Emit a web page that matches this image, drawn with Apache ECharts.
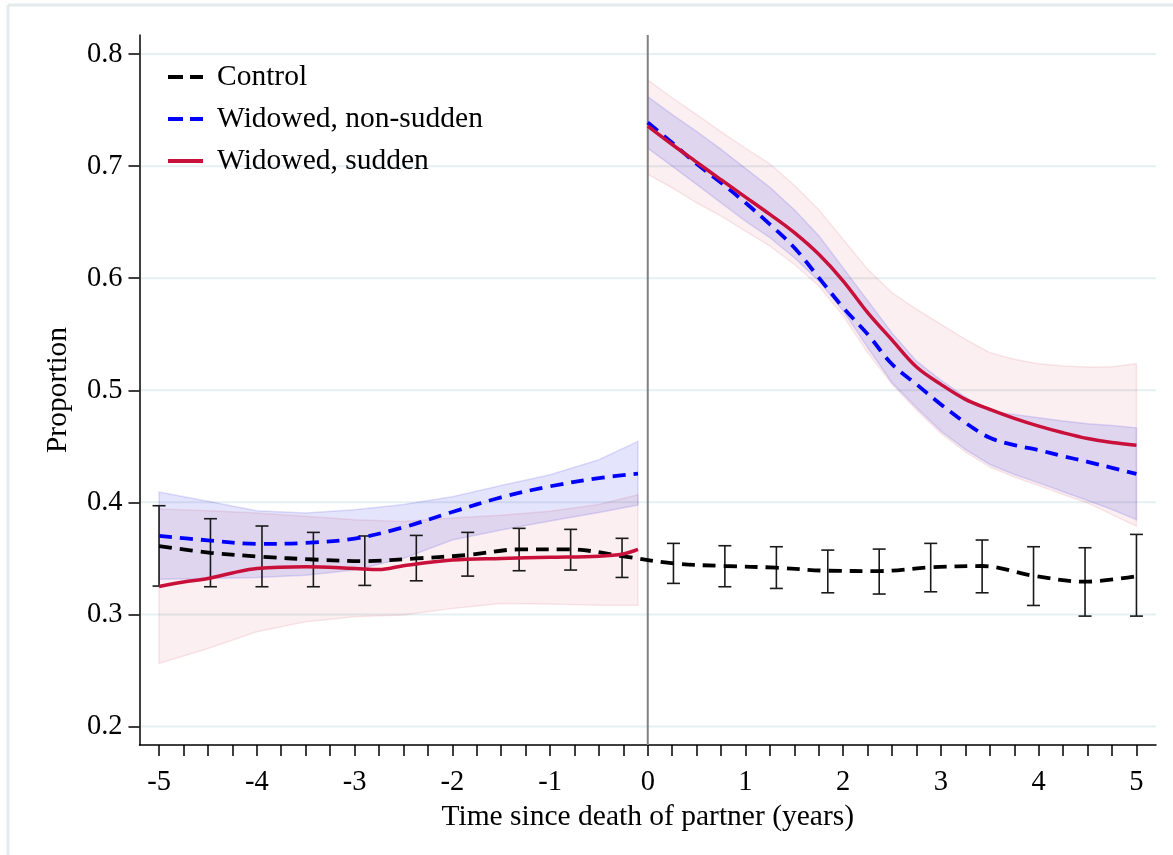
<!DOCTYPE html>
<html>
<head>
<meta charset="utf-8">
<script src="https://cdn.jsdelivr.net/npm/echarts@6/dist/echarts.min.js"></script>
<style>
html,body{margin:0;padding:0;background:#fff;}
#chart{width:1173px;height:855px;}
</style>
</head>
<body>
<div id="chart"></div>
<script>
// ---------- data ----------
const yTicks = [0.2, 0.3, 0.4, 0.5, 0.6, 0.7, 0.8];
const xLabels = [-5, -4, -3, -2, -1, 0, 1, 2, 3, 4, 5];
const xMinorTicks = [-5,-4.75,-4.5,-4.25,-4,-3.75,-3.5,-3.25,-3,-2.75,-2.5,-2.25,-2,-1.75,-1.5,-1.25,-1,-0.75,-0.5,-0.25,0,
  0.25,0.5,0.75,1,1.25,1.5,1.75,2,2.25,2.5,2.75,3,3.25,3.5,3.75,4,4.25,4.5,4.75,5];

// Control (black dashed) with 95% CI error bars
const ctrlX  = [-5, -4.474, -3.947, -3.421, -2.895, -2.368, -1.842, -1.316, -0.789, -0.263,
                0.263, 0.789, 1.316, 1.842, 2.368, 2.895, 3.421, 3.947, 4.474, 5];
const ctrlY  = [0.361, 0.355, 0.3515, 0.349, 0.3476, 0.350, 0.353, 0.358, 0.358, 0.352,
                0.3455, 0.3432, 0.3417, 0.339, 0.3387, 0.342, 0.3432, 0.3345, 0.3292, 0.3342];
const ctrlLo = [0.3253, 0.3247, 0.3247, 0.3247, 0.3259, 0.330, 0.3342, 0.339, 0.3396, 0.333,
                0.3277, 0.3247, 0.3232, 0.3193, 0.3182, 0.3202, 0.3193, 0.308, 0.2985, 0.2985];
const ctrlHi = [0.397, 0.3854, 0.3789, 0.3732, 0.370, 0.3705, 0.3732, 0.3768, 0.3759, 0.3679,
                0.3634, 0.3613, 0.3604, 0.3574, 0.3583, 0.3634, 0.3664, 0.3604, 0.3595, 0.3714];

// Pre-death period grid
const preX = [-5, -4.5, -4, -3.5, -3, -2.5, -2, -1.5, -1, -0.5, -0.1];
// Widowed, non-sudden (blue) pre
const nsPreY  = [0.370, 0.3661, 0.3629, 0.3638, 0.3676, 0.3777, 0.3914, 0.4045, 0.4143, 0.4217, 0.4256];
const nsPreHi = [0.4092, 0.4009, 0.3926, 0.3905, 0.3935, 0.398, 0.405, 0.415, 0.4247, 0.438, 0.4544];
const nsPreLo = [0.3313, 0.332, 0.333, 0.335, 0.3396, 0.350, 0.3664, 0.3753, 0.3833, 0.391, 0.3976];
// Widowed, sudden (red) pre
const ssPreX  = [-5, -4.75, -4.5, -4.25, -4, -3.5, -3, -2.75, -2.5, -2, -1.5, -1, -0.5, -0.25, -0.1];
const ssPreY  = [0.325, 0.329, 0.332, 0.337, 0.341, 0.3426, 0.341, 0.340, 0.3435, 0.3485, 0.350, 0.351, 0.352, 0.354, 0.358];
const ssPreHi = [0.394, 0.3926, 0.3905, 0.3875, 0.3845, 0.383, 0.386, 0.3884, 0.392, 0.398, 0.4068];
const ssPreLo = [0.2562, 0.2696, 0.2845, 0.2935, 0.2979, 0.2994, 0.3054, 0.3098, 0.3092, 0.3083, 0.3083];

// Post-death period grid
const postX = [0, 0.25, 0.5, 0.75, 1, 1.25, 1.5, 1.75, 2, 2.25, 2.5, 2.75, 3, 3.25, 3.5, 3.75, 4, 4.25, 4.5, 4.75, 5];
const nsPostY  = [0.739, 0.7208, 0.702, 0.6851, 0.6673, 0.648, 0.6272, 0.6005, 0.5737, 0.55, 0.5232,
                  0.5053, 0.4874, 0.471, 0.4576, 0.4511, 0.4466, 0.4412, 0.4362, 0.4308, 0.4254];
const nsPostHi = [0.762, 0.746, 0.731, 0.715, 0.698, 0.681, 0.661, 0.638, 0.609, 0.580, 0.551,
                  0.526, 0.509, 0.494, 0.4814, 0.4785, 0.4755, 0.4725, 0.4701, 0.4686, 0.4665];
const nsPostLo = [0.716, 0.700, 0.6837, 0.6673, 0.651, 0.6361, 0.6183, 0.5975, 0.5708, 0.5381, 0.5068,
                  0.4844, 0.4636, 0.4472, 0.4338, 0.4248, 0.4174, 0.4094, 0.4016, 0.3936, 0.3846];
const ssPostY  = [0.7357, 0.7193, 0.7036, 0.6878, 0.6724, 0.6569, 0.6406, 0.6213, 0.5975, 0.5693, 0.5448,
                  0.5208, 0.5053, 0.4919, 0.4829, 0.4749, 0.468, 0.4621, 0.457, 0.4534, 0.451];
const ssPostHi = [0.777, 0.761, 0.746, 0.7306, 0.716, 0.702, 0.683, 0.661, 0.6346, 0.6079, 0.587,
                  0.5723, 0.5589, 0.5455, 0.5336, 0.5276, 0.5237, 0.5217, 0.5208, 0.5211, 0.5237];
const ssPostLo = [0.6926, 0.6807, 0.6673, 0.6554, 0.642, 0.6287, 0.6124, 0.593, 0.5663, 0.5336, 0.5054,
                  0.4825, 0.4615, 0.445, 0.4315, 0.4225, 0.415, 0.407, 0.3995, 0.3891, 0.3787];

// ---------- chart ----------
const FONT = 'Liberation Serif';
const X_MIN = -5.2, X_MAX = 5.2, Y_MIN = 0.1835, Y_MAX = 0.817;
const BLUE = '#0000ff', RED = '#c8103a';
const DASH_ICON = 'path://M0,0H15V4H0Z M22,0H35V4H22Z';
const SOLID_ICON = 'path://M0,0H35V4H0Z';
const pairs = (xs, ys) => xs.map((x, i) => [x, ys[i]]);

function band(name, xs, lo, hi, fill, stroke) {
  return {
    name, type: 'custom', silent: true, z: 1, data: [[xs[0], lo[0]]],
    renderItem: (params, api) => {
      const top = xs.map((x, i) => api.coord([x, hi[i]]));
      const bot = xs.map((x, i) => api.coord([x, lo[i]])).reverse();
      return { type: 'polygon', shape: { points: top.concat(bot) },
               style: { fill, stroke, lineWidth: 1.5 } };
    }
  };
}

const chart = echarts.init(document.getElementById('chart'), null, { renderer: 'canvas' });
chart.setOption({
  backgroundColor: '#fff',
  animation: false,
  grid: { left: 139.5, right: 17, top: 35, bottom: 110, containLabel: false },
  graphic: [
    { type: 'line', shape: { x1: 8, y1: 5, x2: 1173, y2: 5 }, style: { stroke: '#e4ebed', lineWidth: 3 }, silent: true },
    { type: 'line', shape: { x1: 8, y1: 5, x2: 8, y2: 855 }, style: { stroke: '#e4ebed', lineWidth: 3 }, silent: true }
  ],
  legend: {
    data: [
      { name: 'Control', icon: DASH_ICON, itemStyle: { color: '#000' } },
      { name: 'Widowed, non-sudden', icon: DASH_ICON, itemStyle: { color: BLUE } },
      { name: 'Widowed, sudden', icon: SOLID_ICON, itemStyle: { color: RED } }
    ],
    orient: 'vertical', left: 163, top: 56,
    itemWidth: 35, itemHeight: 4, itemGap: 10,
    textStyle: { fontFamily: FONT, fontSize: 29.5, color: '#000', padding: [0, 0, 0, 9], lineHeight: 32 },
    selectedMode: false
  },
  xAxis: {
    type: 'value', min: X_MIN, max: X_MAX,
    name: 'Time since death of partner (years)', nameLocation: 'middle', nameGap: 51,
    nameTextStyle: { fontFamily: FONT, fontSize: 29.5, color: '#000' },
    axisLine: { show: true, onZero: false, lineStyle: { color: '#000', width: 1.5 } },
    axisTick: { show: true, customValues: xMinorTicks, length: 11, lineStyle: { color: '#000', width: 1.5 } },
    axisLabel: { customValues: xLabels, fontFamily: FONT, fontSize: 28.5, color: '#000', margin: 23,
                 formatter: v => String(v) },
    splitLine: { show: false }
  },
  yAxis: {
    type: 'value', min: Y_MIN, max: Y_MAX,
    name: 'Proportion', nameLocation: 'middle', nameGap: 66, nameRotate: 90,
    nameTextStyle: { fontFamily: FONT, fontSize: 29.5, color: '#000' },
    axisLine: { show: true, onZero: false, lineStyle: { color: '#000', width: 1.5 } },
    axisTick: { show: true, customValues: yTicks, length: 11, lineStyle: { color: '#000', width: 1.5 } },
    axisLabel: { customValues: yTicks, fontFamily: FONT, fontSize: 28.5, color: '#000', margin: 17,
                 formatter: v => Number(v).toFixed(1) },
    splitLine: { show: false }
  },
  series: [
    { // horizontal gridlines
      name: '_grid', type: 'custom', silent: true, z: 0, data: [[X_MIN, Y_MIN]],
      renderItem: (params, api) => ({
        type: 'group',
        children: yTicks.map(v => {
          const a = api.coord([X_MIN, v]), b = api.coord([X_MAX, v]);
          return { type: 'line', shape: { x1: a[0] + 1, y1: a[1], x2: b[0], y2: b[1] },
                   style: { stroke: '#e6eff1', lineWidth: 2 } };
        })
      })
    },
    band('_bandSsPre', preX, ssPreLo, ssPreHi, 'rgba(200,16,46,0.065)', 'rgba(200,16,46,0.09)'),
    band('_bandSsPost', postX, ssPostLo, ssPostHi, 'rgba(200,16,46,0.065)', 'rgba(200,16,46,0.09)'),
    band('_bandNsPre', preX, nsPreLo, nsPreHi, 'rgba(10,10,225,0.11)', 'rgba(10,10,225,0.12)'),
    band('_bandNsPost', postX, nsPostLo, nsPostHi, 'rgba(10,10,225,0.11)', 'rgba(10,10,225,0.12)'),
    { // vertical line at time 0
      name: '_zero', type: 'custom', silent: true, z: 2, data: [[0, Y_MIN]],
      renderItem: (params, api) => {
        const a = api.coord([0, Y_MIN]), b = api.coord([0, Y_MAX]);
        return { type: 'line', shape: { x1: a[0], y1: a[1], x2: b[0], y2: b[1] },
                 style: { stroke: '#808080', lineWidth: 2 } };
      }
    },
    { // error bars for control
      name: '_errbars', type: 'custom', silent: true, z: 3,
      data: ctrlX.map((x, i) => [x, ctrlLo[i], ctrlHi[i]]),
      encode: { x: 0, y: [1, 2] },
      renderItem: (params, api) => {
        const x = api.value(0);
        const lo = api.coord([x, api.value(1)]), hi = api.coord([x, api.value(2)]);
        const w = 6.5, st = { stroke: '#1a1a1a', lineWidth: 1.6 };
        return { type: 'group', children: [
          { type: 'line', shape: { x1: lo[0], y1: lo[1], x2: hi[0], y2: hi[1] }, style: st },
          { type: 'line', shape: { x1: hi[0] - w, y1: hi[1], x2: hi[0] + w, y2: hi[1] }, style: st },
          { type: 'line', shape: { x1: lo[0] - w, y1: lo[1], x2: lo[0] + w, y2: lo[1] }, style: st }
        ] };
      }
    },
    { name: 'Control', type: 'line', z: 4, data: pairs(ctrlX, ctrlY), smooth: 0.35, symbol: 'none',
      color: '#000', lineStyle: { color: '#000', width: 3.8, type: [13, 8] } },
    { name: 'Widowed, non-sudden', type: 'line', z: 5, data: pairs(preX, nsPreY), smooth: 0.35, symbol: 'none',
      color: BLUE, lineStyle: { color: BLUE, width: 3.8, type: [13, 8] } },
    { name: 'Widowed, non-sudden', type: 'line', z: 5, data: pairs(postX, nsPostY), smooth: 0.35, symbol: 'none',
      color: BLUE, lineStyle: { color: BLUE, width: 3.8, type: [13, 8] } },
    { name: 'Widowed, sudden', type: 'line', z: 6, data: pairs(ssPreX, ssPreY), smooth: 0.35, symbol: 'none',
      color: RED, lineStyle: { color: RED, width: 3.5, type: 'solid' } },
    { name: 'Widowed, sudden', type: 'line', z: 6, data: pairs(postX, ssPostY), smooth: 0.35, symbol: 'none',
      color: RED, lineStyle: { color: RED, width: 3.5, type: 'solid' } }
  ]
});
</script>
</body>
</html>
